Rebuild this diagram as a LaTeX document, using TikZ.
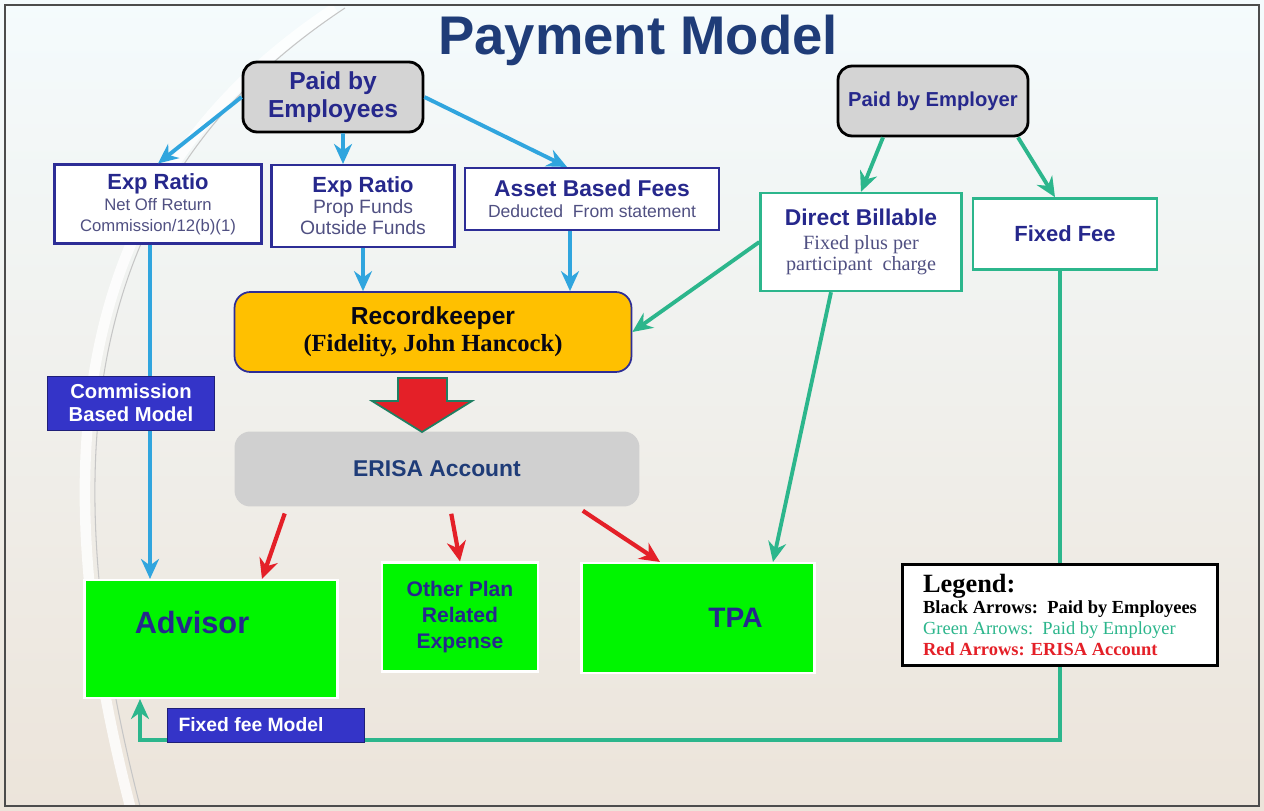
\documentclass[tikz,border=0pt]{standalone}
\usepackage{fontspec}
\setmainfont{Liberation Serif}
\setsansfont{Liberation Sans}
\usepackage{xcolor}
\usepackage{tikz}
\usetikzlibrary{arrows.meta, positioning}

\definecolor{navytxt}{RGB}{38,40,140}
\definecolor{subtxt}{RGB}{80,80,130}
\definecolor{titleblue}{RGB}{31,60,120}
\definecolor{boxblue}{RGB}{45,45,150}
\definecolor{arrblue}{RGB}{48,165,222}
\definecolor{arrteal}{RGB}{44,182,140}
\definecolor{arrred}{RGB}{228,32,40}
\definecolor{paygray}{RGB}{212,212,212}
\definecolor{erisagray}{RGB}{208,208,208}
\definecolor{rkorange}{RGB}{255,192,0}
\definecolor{payeegreen}{RGB}{0,245,0}
\definecolor{tagblue}{RGB}{52,52,200}
\definecolor{bgtop}{RGB}{244,251,253}
\definecolor{bgmid}{RGB}{244,244,240}
\definecolor{bgbot}{RGB}{236,228,218}

\newcommand{\headtxt}[1]{\textsf{\textbf{\fontsize{12.5}{14}\selectfont #1}}}
\newcommand{\subtxt}[2]{\textsf{\fontsize{#1}{#1}\selectfont\textcolor{subtxt}{#2}}}

\begin{document}
\begin{tikzpicture}[
    x=0.02cm, y=-0.02cm,
    payer/.style={rectangle, draw=black, line width=1.6pt, fill=paygray, rounded corners=8pt, align=center, text=navytxt, font=\sffamily\bfseries},
    expbox/.style={rectangle, draw=boxblue, line width=1.2pt, fill=white, align=center, text=navytxt},
    billbox/.style={rectangle, draw=arrteal, line width=1.4pt, fill=white, align=center, text=navytxt},
    payee/.style={rectangle, draw=white, line width=1.2pt, fill=payeegreen, align=center, text=navytxt, font=\sffamily\bfseries},
    tag/.style={rectangle, draw=tagblue!60!black, fill=tagblue, text=white, align=center, font=\sffamily\bfseries},
    empl/.style={-{Stealth[length=4mm, width=3.6mm]}, line width=2.2pt, draw=arrblue},
    empr/.style={-{Stealth[length=4mm, width=3.6mm]}, line width=2.2pt, draw=arrteal},
    paid/.style={-{Stealth[length=4mm, width=3.8mm]}, line width=2.4pt, draw=arrred, shorten <=4pt},
]
\useasboundingbox (0,0) rectangle (1264,811);

% Background
\shade[top color=bgtop, middle color=bgmid, bottom color=bgbot] (0,0) rectangle (1264,811);
\draw[white, line width=6pt, opacity=0.8] (335,8) .. controls (120,150) and (20,380) .. (130,806);
\draw[gray!45, line width=0.6pt] (345,8) .. controls (130,150) and (30,380) .. (140,806);
\draw[gray!60!black, line width=0.8pt] (5,5) rectangle (1259,806);

% Title
\node[font=\sffamily\bfseries\fontsize{31}{34}\selectfont, text=titleblue] (title) at (638,40) {Payment Model};

% Payers
\node[payer, minimum width=3.6cm, minimum height=1.4cm, font=\sffamily\bfseries\fontsize{14}{16}\selectfont] (employees) at (333,97) {Paid by\\Employees};
\node[payer, minimum width=3.8cm, minimum height=1.4cm, font=\sffamily\bfseries\fontsize{11.5}{13}\selectfont] (employer) at (933,101) {Paid by Employer};

% Fee boxes
\node[expbox, minimum width=4.14cm, minimum height=1.58cm] (exp1) at (158,204)
    {\headtxt{Exp Ratio}\\ \subtxt{9.5}{Net Off Return}\\ \subtxt{9.5}{Commission/12(b)(1)}};
\node[expbox, minimum width=3.66cm, minimum height=1.64cm] (exp2) at (363,206)
    {\headtxt{Exp Ratio}\\ \subtxt{11}{Prop Funds}\\ \subtxt{11}{Outside Funds}};
\node[expbox, minimum width=5.08cm, minimum height=1.24cm] (asset) at (592,199)
    {\textsf{\textbf{\fontsize{13}{15}\selectfont Asset Based Fees}}\\ \subtxt{10}{Deducted\ \ From statement}};
\node[billbox, minimum width=4.02cm, minimum height=1.96cm] (direct) at (861,242)
    {\textsf{\textbf{\fontsize{13}{15}\selectfont Direct Billable}}\\[2pt]
     \textcolor{subtxt}{\fontsize{11.5}{13}\selectfont Fixed plus per}\\
     \textcolor{subtxt}{\fontsize{11.5}{13}\selectfont participant\ \ charge}};
\node[billbox, minimum width=3.68cm, minimum height=1.42cm, font=\sffamily\bfseries\fontsize{12.5}{14}\selectfont] (fixed) at (1065,234) {Fixed Fee};

% Recordkeeper and ERISA account
\node[rectangle, draw=boxblue, line width=1pt, fill=rkorange, rounded corners=9pt, minimum width=7.94cm, minimum height=1.6cm, align=center, text=black!85!navytxt] (rk) at (433,332)
    {\textsf{\textbf{\fontsize{14}{16}\selectfont Recordkeeper}}\\[2pt]
     \textbf{\fontsize{14}{16}\selectfont (Fidelity, John Hancock)}};
\node[rectangle, fill=erisagray, rounded corners=9pt, minimum width=8.1cm, minimum height=1.5cm, text=titleblue, font=\sffamily\bfseries\fontsize{13}{15}\selectfont] (erisa) at (437,469) {ERISA Account};
\fill[arrred, draw=arrteal!70!black, line width=1pt] (398,378) -- (447,378) -- (447,401) -- (472,401) -- (422,432) -- (372,401) -- (398,401) -- cycle;

% Payees
\node[payee, minimum width=5.06cm, minimum height=2.36cm, font=\sffamily\bfseries\fontsize{17.5}{20}\selectfont] (advisor) at (211,639) {\raisebox{0.68cm}{Advisor}\hspace*{0.76cm}};
\node[payee, minimum width=3.12cm, minimum height=2.18cm, font=\sffamily\bfseries\fontsize{12}{15}\selectfont] (other) at (460,617) {Other Plan\\Related\\Expense};
\node[payee, minimum width=4.66cm, minimum height=2.2cm, font=\sffamily\bfseries\fontsize{16}{18}\selectfont] (tpa) at (698,618) {\hspace*{1.5cm}TPA};

% Arrows paid by employees
\draw[empl] (employees.west) -- (exp1.north);
\draw[empl] ([xshift=0.2cm]employees.south) -- ([xshift=-0.4cm]exp2.north);
\draw[empl] (employees.east) -- ([xshift=-0.5cm]asset.north);
\draw[empl] ([xshift=-0.16cm]exp1.south) -- ([xshift=-0.16cm]exp1.south |- advisor.north);
\draw[empl] (exp2.south) -- (exp2.south |- rk.north);
\draw[empl] ([xshift=-0.44cm]asset.south) -- ([xshift=-0.44cm]asset.south |- rk.north);

% Arrows paid by employer
\coordinate (loopleft) at (140,740);
\draw[empr] ([xshift=-1cm]employer.south) -- (direct.north);
\draw[empr] ([xshift=1.7cm]employer.south) -- ([xshift=-0.2cm]fixed.north);
\draw[empr] (direct.west) -- (rk.east);
\draw[empr] ([xshift=-0.6cm]direct.south) -- ([xshift=1.5cm]tpa.north);
\draw[empr] ([xshift=-0.1cm]fixed.south) |- (loopleft) -- (loopleft |- advisor.south);

% Arrows from the ERISA account
\draw[paid] ([xshift=-3cm]erisa.south) -- ([xshift=1.02cm]advisor.north);
\draw[paid] ([xshift=0.26cm]erisa.south) -- (other.north);
\draw[paid] ([xshift=2.8cm]erisa.south) -- ([xshift=-0.76cm]tpa.north);

% Model tags
\node[tag, minimum width=3.34cm, minimum height=1.08cm, font=\sffamily\bfseries\fontsize{11.5}{13}\selectfont] (commission) at (131,403) {Commission\\Based Model};
\node[tag, minimum width=3.94cm, minimum height=0.68cm, font=\sffamily\bfseries\fontsize{11}{13}\selectfont] (fixedmodel) at (266,725) {Fixed fee Model\hspace*{0.6cm}};

% Legend
\node[rectangle, draw=black, line width=1.6pt, fill=white, minimum width=6.3cm, minimum height=2.02cm, align=left, inner xsep=8pt] (legend) at (1060,615)
    {\textbf{\fontsize{15}{16}\selectfont Legend:}\\
     \textbf{\fontsize{10.5}{12}\selectfont Black Arrows:\ \ Paid by Employees}\\
     \textcolor{arrteal}{\fontsize{10.5}{12}\selectfont Green Arrows:\ \ Paid by Employer}\\
     \textcolor{arrred}{\bfseries\fontsize{10.5}{12}\selectfont Red Arrows: ERISA Account}};

\end{tikzpicture}
\end{document}
